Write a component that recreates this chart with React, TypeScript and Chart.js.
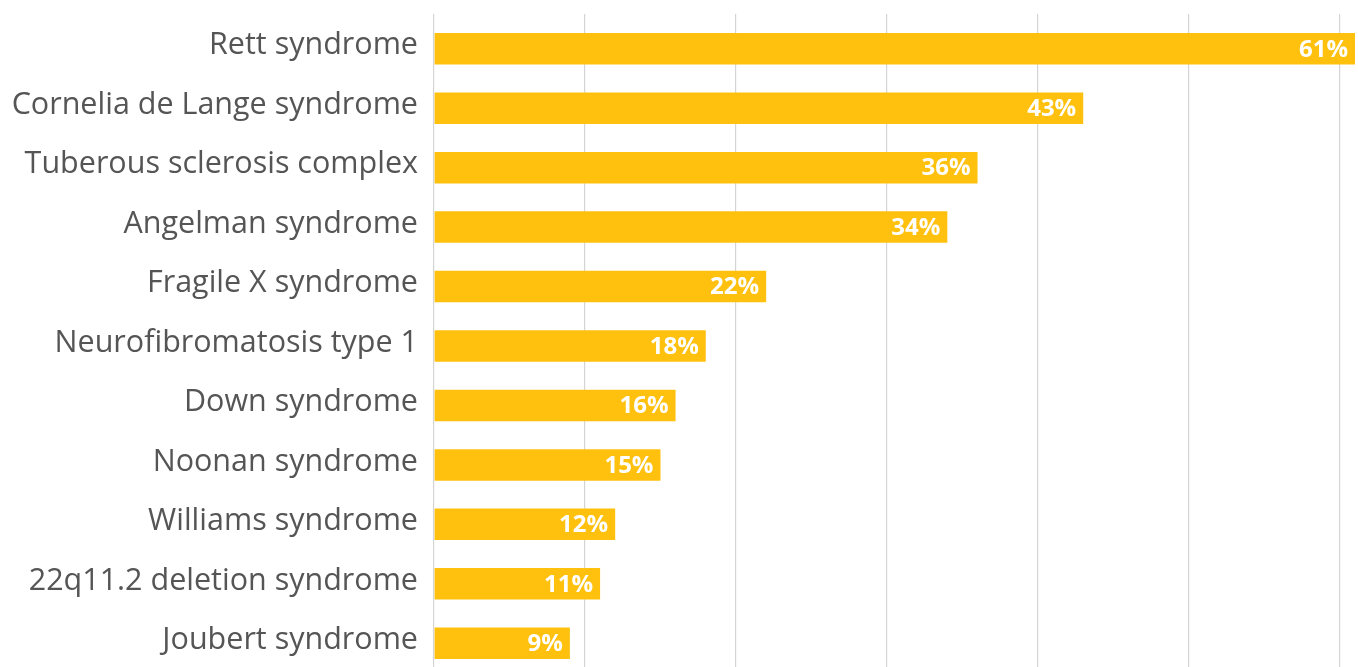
import React, { useEffect, useRef } from "react";
import { Chart, registerables } from "chart.js";

Chart.register(...registerables);

const categories = [
  "Rett syndrome",
  "Cornelia de Lange syndrome",
  "Tuberous sclerosis complex",
  "Angelman syndrome",
  "Fragile X syndrome",
  "Neurofibromatosis type 1",
  "Down syndrome",
  "Noonan syndrome",
  "Williams syndrome",
  "22q11.2 deletion syndrome",
  "Joubert syndrome",
];
const values = [61, 43, 36, 34, 22, 18, 16, 15, 12, 11, 9];
const xTicks = [0, 10, 20, 30, 40, 50, 60];

const barColor = "#FFC10E";

const valueLabels = {
  id: "valueLabels",
  afterDatasetsDraw(chart: any) {
    const ctx = chart.ctx;
    const meta = chart.getDatasetMeta(0);
    ctx.save();
    ctx.font = "bold 24px 'Open Sans'";
    ctx.fillStyle = "#ffffff";
    ctx.textAlign = "right";
    ctx.textBaseline = "middle";
    meta.data.forEach((bar: any, i: number) => {
      ctx.fillText(values[i] + "%", bar.x - 7, bar.y + 1);
    });
    ctx.restore();
  },
};

export default function App() {
  const ref = useRef<HTMLCanvasElement>(null);
  useEffect(() => {
    if (!ref.current) return;
    const chart = new Chart(ref.current, {
      type: "bar",
      data: {
        labels: categories,
        datasets: [
          {
            data: values,
            backgroundColor: barColor,
            borderWidth: 0,
            categoryPercentage: 1,
            barPercentage: 0.53,
          },
        ],
      },
      options: {
        indexAxis: "y",
        animation: false,
        responsive: false,
        maintainAspectRatio: false,
        layout: { padding: { top: 14, right: 3, bottom: 0, left: 0 } },
        plugins: {
          legend: { display: false },
          tooltip: { enabled: false },
        },
        scales: {
          x: {
            position: "top",
            min: 0,
            max: 61,
            afterBuildTicks: (scale: any) => {
              scale.ticks = xTicks.map((v) => ({ value: v }));
            },
            ticks: { display: false },
            grid: {
              color: "#d4d4d4",
              lineWidth: 1.2,
              drawTicks: true,
              tickLength: 5,
            },
            border: { display: false },
          },
          y: {
            afterFit: (scale: any) => {
              scale.width = 434;
              scale.paddingTop = 0;
              scale.paddingBottom = 0;
            },
            ticks: {
              color: "#555555",
              font: { family: "'Open Sans'", size: 30.5 },
              padding: 8,
              labelOffset: -3,
            },
            grid: { display: false },
            border: { display: false },
          },
        },
      },
      plugins: [valueLabels],
    });
    return () => chart.destroy();
  }, []);
  return (
    <div
      style={{
        position: "fixed",
        left: 0,
        top: 0,
        width: 1358,
        height: 667,
        overflow: "hidden",
        background: "#ffffff",
      }}
    >
      <canvas ref={ref} width={1358} height={673} style={{ display: "block" }} />
    </div>
  );
}
